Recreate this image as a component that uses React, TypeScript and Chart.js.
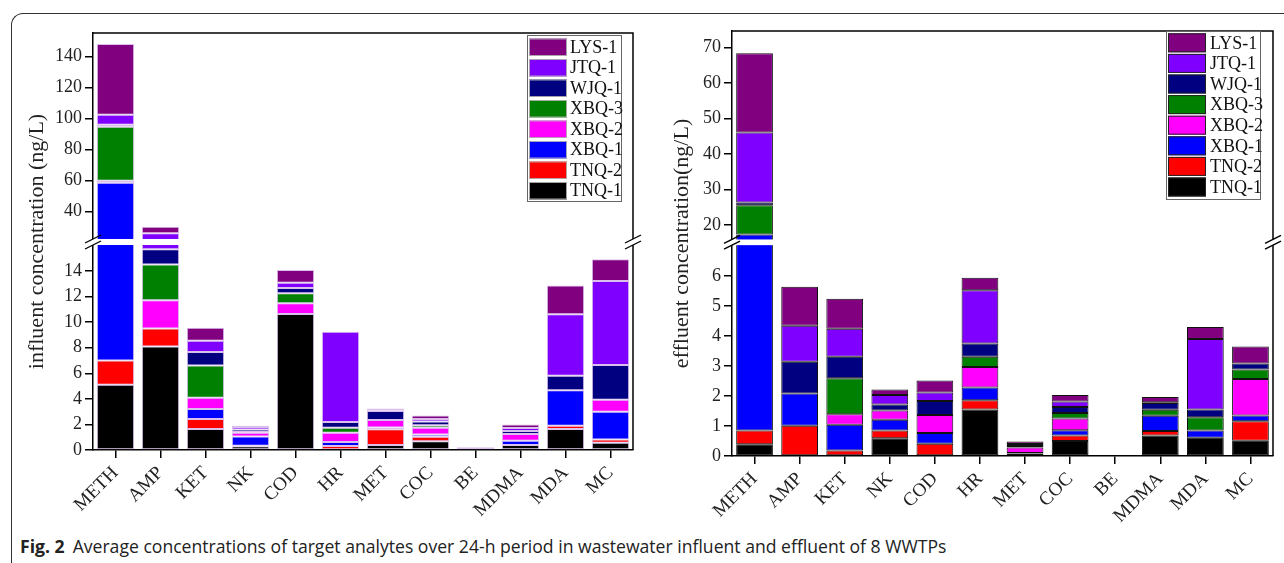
import React, { useEffect, useRef } from 'react';
import { Chart, registerables } from 'chart.js';

Chart.register(...registerables);

// ---------------- DATA ----------------
const CATEGORIES = ['METH', 'AMP', 'KET', 'NK', 'COD', 'HR', 'MET', 'COC', 'BE', 'MDMA', 'MDA', 'MC'];
// stacking order: bottom -> top
const SITES = ['TNQ-1', 'TNQ-2', 'XBQ-1', 'XBQ-2', 'XBQ-3', 'WJQ-1', 'JTQ-1', 'LYS-1'];
const SITE_COLORS = ['#000000', '#ff0000', '#0000ff', '#ff00ff', '#008000', '#000080', '#8000ff', '#800080'];

// influent (ng/L)
const TNQ1_IN = [5.1, 8.1, 1.64, 0.3, 10.63, 0.05, 0.39, 0.68, 0, 0.39, 1.64, 0.57];
const TNQ2_IN = [1.9, 1.4, 0.78, 0.03, 0, 0.26, 1.23, 0.36, 0.21, 0, 0.26, 0.26];
const XBQ1_IN = [51.7, 0, 0.78, 0.72, 0, 0.32, 0.13, 0.18, 0, 0.34, 2.77, 2.17];
const XBQ2_IN = [1.3, 2.2, 0.89, 0.3, 0.84, 0.72, 0.6, 0.52, 0, 0.52, 0, 0.93];
const XBQ3_IN = [34.8, 2.8, 2.51, 0.05, 0.78, 0.39, 0, 0.19, 0, 0, 0, 0];
const WJQ1_IN = [1.3, 1.2, 1.06, 0.2, 0.42, 0.45, 0.7, 0.29, 0, 0.24, 1.14, 2.72];
const JTQ1_IN = [6.5, 10.4, 0.89, 0.2, 0.41, 7.06, 0.05, 0.2, 0, 0.23, 4.8, 6.56];
const LYS1_IN = [45.6, 4.2, 1.01, 0.1, 0.99, 0, 0.15, 0.28, 0, 0.28, 2.26, 1.7];

// effluent (ng/L)
const TNQ1_EF = [0.39, 0, 0, 0.59, 0, 1.55, 0, 0.5, 0, 0.68, 0.61, 0.51];
const TNQ2_EF = [0.46, 1.01, 0.18, 0.26, 0.41, 0.31, 0.08, 0.18, 0, 0.15, 0, 0.65];
const XBQ1_EF = [16.55, 1.07, 0.86, 0.36, 0.36, 0.42, 0.02, 0.18, 0, 0.51, 0.24, 0.19];
const XBQ2_EF = [0, 0, 0.35, 0.31, 0.6, 0.69, 0.18, 0.39, 0, 0, 0, 1.22];
const XBQ3_EF = [8.2, 0, 1.2, 0, 0, 0.34, 0, 0.18, 0, 0.2, 0.44, 0.31];
const WJQ1_EF = [0.8, 1.06, 0.72, 0.2, 0.46, 0.44, 0.05, 0.2, 0, 0.23, 0.26, 0.2];
const JTQ1_EF = [19.7, 1.2, 0.93, 0.31, 0.29, 1.78, 0.07, 0.19, 0, 0.02, 2.35, 0];
const LYS1_EF = [22.3, 1.3, 1.0, 0.19, 0.4, 0.41, 0.08, 0.21, 0, 0.18, 0.4, 0.57];

const INFLUENT = [TNQ1_IN, TNQ2_IN, XBQ1_IN, XBQ2_IN, XBQ3_IN, WJQ1_IN, JTQ1_IN, LYS1_IN];
const EFFLUENT = [TNQ1_EF, TNQ2_EF, XBQ1_EF, XBQ2_EF, XBQ3_EF, WJQ1_EF, JTQ1_EF, LYS1_EF];

// tick labels
const IN_TICKS_LOW = [0, 2, 4, 6, 8, 10, 12, 14];
const IN_TICKS_HIGH = [40, 60, 80, 100, 120, 140];
const EF_TICKS_LOW = [0, 1, 2, 3, 4, 5, 6];
const EF_TICKS_HIGH = [20, 30, 40, 50, 60, 70];

const IN_TITLE = 'influent concentration (ng/L)';
const EF_TITLE = 'effluent concentration(ng/L)';
const CAPTION_BOLD = 'Fig. 2';
const CAPTION_TEXT = 'Average concentrations of target analytes over 24-h period in wastewater influent and effluent of 8 WWTPs';

// ---------------- AXIS BREAK SETTINGS ----------------
type Brk = { lowMax: number; upMin: number; gap: number; ratio: number; top: number };
const IN_BREAK: Brk = { lowMax: 16.03, upMin: 22.4, gap: 0.47, ratio: 0.1212, top: 155.3 };
const EF_BREAK: Brk = { lowMax: 7.03, upMin: 16.0, gap: 0.19, ratio: 0.1184, top: 74.7 };

function makeTransform(b: Brk) {
  return (v: number) => {
    if (v <= b.lowMax) return v;
    if (v < b.upMin) return b.lowMax + ((v - b.lowMax) / (b.upMin - b.lowMax)) * b.gap;
    return b.lowMax + b.gap + (v - b.upMin) * b.ratio;
  };
}

const SERIF = '"Liberation Serif", "Times New Roman", serif';

type PanelCfg = {
  values: number[][];
  brk: Brk;
  ticksLow: number[];
  ticksHigh: number[];
  title: string;
  left: number;
  width: number;
  height: number;
  yWidth: number;
  xHeight: number;
  padTop: number;
  padRight: number;
  titlePad: number;
  barPct: number;
  barBorder: string;
  barBorderWidth: number;
  legend: { offRight: number; offTop: number; w: number; h: number; first: number; step: number; sw: number; sh: number; swBorder: string; textX: number; box: string };
};

function Panel({ cfg }: { cfg: PanelCfg }) {
  const ref = useRef<HTMLCanvasElement | null>(null);
  useEffect(() => {
    const tf = makeTransform(cfg.brk);
    const cum = CATEGORIES.map(() => 0);
    const datasets = cfg.values.map((arr, i) => ({
      label: SITES[i],
      data: arr.map((v, j) => {
        const a = cum[j];
        const b = a + v;
        cum[j] = b;
        return v > 0 ? [tf(a), tf(b)] : null;
      }),
      backgroundColor: SITE_COLORS[i],
      borderColor: cfg.barBorder,
      borderWidth: cfg.barBorderWidth,
      borderSkipped: false,
      categoryPercentage: 1,
      barPercentage: cfg.barPct,
    }));
    const tickVals = [...cfg.ticksLow, ...cfg.ticksHigh];
    const tickLabels = tickVals.map((v) => String(v));
    const brk = cfg.brk;
    const lg = cfg.legend;

    const decor = {
      id: 'decor',
      afterDatasetsDraw(chart: any) {
        const { ctx, chartArea: ca } = chart;
        const y = chart.scales.y;
        ctx.save();
        ctx.strokeStyle = '#000';
        ctx.lineWidth = 1.5;
        ctx.beginPath();
        ctx.moveTo(ca.left, ca.top);
        ctx.lineTo(ca.right, ca.top);
        ctx.lineTo(ca.right, ca.bottom);
        ctx.stroke();
        const yLo = y.getPixelForValue(brk.lowMax);
        const yHi = y.getPixelForValue(brk.lowMax + brk.gap);
        ctx.fillStyle = '#fff';
        ctx.fillRect(ca.left - 5, yHi, ca.right - ca.left + 10, yLo - yHi);
        ctx.lineWidth = 1.3;
        for (const x of [ca.left, ca.right]) {
          for (const yy of [yHi, yLo]) {
            ctx.beginPath();
            ctx.moveTo(x - 8, yy + 4);
            ctx.lineTo(x + 8, yy - 4);
            ctx.stroke();
          }
        }
        ctx.restore();
      },
      afterDraw(chart: any) {
        const { ctx, chartArea: ca } = chart;
        const bx = ca.right - lg.offRight;
        const by = ca.top + lg.offTop;
        ctx.save();
        ctx.fillStyle = '#fff';
        ctx.fillRect(bx, by, lg.w, lg.h);
        ctx.strokeStyle = lg.box;
        ctx.lineWidth = 1;
        ctx.strokeRect(bx + 0.5, by + 0.5, lg.w, lg.h);
        const ds = chart.data.datasets;
        ctx.font = `18px ${SERIF}`;
        ctx.textBaseline = 'middle';
        ctx.textAlign = 'left';
        for (let k = 0; k < ds.length; k++) {
          const d = ds[ds.length - 1 - k];
          const sy = by + lg.first + k * lg.step;
          ctx.fillStyle = d.backgroundColor;
          ctx.fillRect(bx + 2, sy, lg.sw, lg.sh);
          ctx.strokeStyle = lg.swBorder;
          ctx.strokeRect(bx + 2.5, sy + 0.5, lg.sw - 1, lg.sh - 1);
          ctx.fillStyle = '#111';
          ctx.fillText(d.label, bx + lg.textX, sy + lg.sh / 2 + 1);
        }
        ctx.restore();
      },
    };

    const chart = new Chart(ref.current as HTMLCanvasElement, {
      type: 'bar',
      data: { labels: CATEGORIES, datasets: datasets as any },
      options: {
        animation: false,
        responsive: false,
        maintainAspectRatio: false,
        layout: { padding: { left: 0, top: cfg.padTop, right: cfg.padRight, bottom: 0 } },
        plugins: { legend: { display: false }, tooltip: { enabled: false }, title: { display: false } },
        scales: {
          x: {
            type: 'category',
            stacked: true,
            offset: true,
            grid: { display: true, drawOnChartArea: false, offset: false, tickLength: 8, color: '#000', lineWidth: 1.5 },
            border: { display: true, color: '#000', width: 1.5 },
            ticks: { font: { family: SERIF, size: 19 }, color: '#222', minRotation: 45, maxRotation: 45, autoSkip: false, padding: 4 },
            afterFit: (s: any) => {
              s.height = cfg.xHeight;
            },
          },
          y: {
            type: 'linear',
            stacked: false,
            min: 0,
            max: tf(brk.top),
            grid: { display: true, drawOnChartArea: false, tickLength: 8, color: '#000', lineWidth: 1.5 },
            border: { display: true, color: '#000', width: 1.5 },
            ticks: {
              font: { family: SERIF, size: 18 },
              color: '#222',
              padding: 3,
              callback: (_v: any, i: number) => tickLabels[i],
            },
            afterBuildTicks: (s: any) => {
              s.ticks = tickVals.map((v) => ({ value: tf(v) }));
            },
            afterFit: (s: any) => {
              s.width = cfg.yWidth;
            },
            title: {
              display: true,
              text: cfg.title,
              color: '#222',
              font: { family: SERIF, size: 22 },
              padding: { top: cfg.titlePad, bottom: 0 },
            },
          },
        },
      } as any,
      plugins: [decor as any],
    });
    return () => chart.destroy();
  }, [cfg]);
  return (
    <canvas
      ref={ref}
      width={cfg.width}
      height={cfg.height}
      style={{ position: 'absolute', left: cfg.left, top: 0, width: cfg.width, height: cfg.height }}
    />
  );
}

const LEFT_CFG: PanelCfg = {
  values: INFLUENT,
  brk: IN_BREAK,
  ticksLow: IN_TICKS_LOW,
  ticksHigh: IN_TICKS_HIGH,
  title: IN_TITLE,
  left: 0,
  width: 660,
  height: 530,
  yWidth: 93,
  xHeight: 80,
  padTop: 33,
  padRight: 27,
  titlePad: 24,
  barPct: 0.83,
  barBorder: 'rgba(205,170,230,0.75)',
  barBorderWidth: 1,
  legend: { offRight: 106, offTop: 2, w: 94, h: 166, first: 3.5, step: 20.5, sw: 38, sh: 17.5, swBorder: 'rgba(180,180,180,0.9)', textX: 43, box: '#666' },
};

const RIGHT_CFG: PanelCfg = {
  values: EFFLUENT,
  brk: EF_BREAK,
  ticksLow: EF_TICKS_LOW,
  ticksHigh: EF_TICKS_HIGH,
  title: EF_TITLE,
  left: 660,
  width: 624,
  height: 530,
  yWidth: 72,
  xHeight: 74,
  padTop: 31,
  padRight: 11,
  titlePad: 9,
  barPct: 0.815,
  barBorder: '#111',
  barBorderWidth: 1,
  legend: { offRight: 107, offTop: 0, w: 94, h: 168, first: 2.3, step: 20.6, sw: 38, sh: 19, swBorder: '#222', textX: 44, box: '#666' },
};

export default function App() {
  return (
    <div style={{ position: 'absolute', left: 0, top: 0, width: 1284, height: 563, background: '#fff', overflow: 'hidden' }}>
      <div
        style={{
          position: 'absolute',
          left: 11,
          top: 13,
          width: 1400,
          height: 700,
          borderLeft: '1.5px solid #333',
          borderTop: '1.5px solid #333',
          borderTopLeftRadius: 12,
        }}
      />
      <Panel cfg={LEFT_CFG} />
      <Panel cfg={RIGHT_CFG} />
      <div
        style={{
          position: 'absolute',
          left: 20,
          top: 535,
          fontFamily: '"Open Sans", "Noto Sans", sans-serif',
          fontSize: 17.6,
          lineHeight: '22px',
          color: '#222',
          whiteSpace: 'nowrap',
        }}
      >
        <b>{CAPTION_BOLD}</b>
        <span style={{ marginLeft: 8 }}>{CAPTION_TEXT}</span>
      </div>
    </div>
  );
}
